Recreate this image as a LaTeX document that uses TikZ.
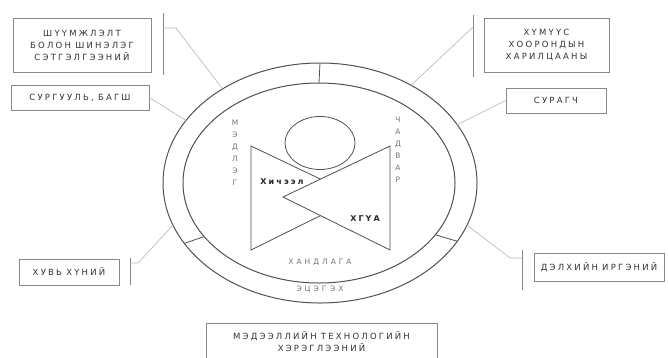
\documentclass[tikz,border=0pt]{standalone}
\usepackage{fontspec}
\setmainfont{DejaVu Sans}
\newfontfamily\tagfont[LetterSpace=26]{DejaVu Sans}
\newfontfamily\ringfont[LetterSpace=40]{DejaVu Sans}
\newcommand{\gap}{\hspace{0.5em}}
\usetikzlibrary{shapes.geometric,calc,positioning}
\definecolor{inkgray}{RGB}{50,50,50}
\definecolor{linegray}{RGB}{80,80,80}
\definecolor{leadgray}{RGB}{180,180,180}
\definecolor{boxgray}{RGB}{135,135,135}
\definecolor{softgray}{RGB}{115,115,115}
\tikzset{
  ring/.style 2 args={ellipse,draw=linegray,line width=1pt,inner sep=0pt,outer sep=0pt,
    minimum width=#1,minimum height=#2},
  tag/.style={rectangle,draw=boxgray,fill=white,text width=#1,align=center,text=inkgray,
    inner sep=0pt,font=\tagfont\fontsize{8.5}{12}\selectfont},
  tag/.default=120pt,
  lead/.style={draw=leadgray,line width=0.6pt},
  brk/.style={draw=boxgray,line width=0.6pt},
  side/.style={text=softgray,align=center,font=\ringfont\fontsize{7.5}{12}\selectfont},
  keyword/.style={text=black!85,font=\tagfont\bfseries\fontsize{8}{9}\selectfont}
}
\begin{document}
\begin{tikzpicture}[x=1pt,y=-1pt]
    \useasboundingbox (0,0) rectangle (668,357);

    % Rings
    \node[ring={314pt}{240pt}] (outer) at (320,183) {};
    \node[ring={272pt}{200pt}] (inner) at (319,183) {};
    \draw[linegray,line width=0.8pt] (outer.90) -- (inner.90);
    \draw[linegray,line width=0.8pt] (outer.204) -- (inner.205);
    \draw[linegray,line width=0.8pt] (outer.337) -- (inner.336);

    % Head and bow
    \node[ring={70pt}{53pt},line width=0.8pt] (head) at (320,143) {};
    \coordinate (tl) at (251,146);
    \coordinate (bl) at (251,250);
    \coordinate (tr) at (390,146);
    \coordinate (br) at (390,250);
    \coordinate (apL) at (283,197);
    \coordinate (apR) at (358,197);
    \draw[linegray,line width=0.8pt] (tr) -- (apL) -- (br) -- cycle;
    \draw[linegray,line width=0.8pt] (intersection of tl--apR and tr--apL) -- (tl) -- (bl)
      -- (intersection of bl--apR and br--apL);

    % Labels inside
    \node[side] (know) at (235,153) {М\\Э\\Д\\Л\\Э\\Г};
    \node[side] (skill) at (398,150) {Ч\\А\\Д\\В\\А\\Р};
    \node[side] (attit) at (320,262) {ХАНДЛАГА};
    \node[side] (parent) at (320,289) {ЭЦЭГ\gap ЭХ};
    \node[keyword] (lesson) at (282,182) {Хичээл};
    \node[keyword] (extra) at (365,219) {ХГҮА};

    % Boxes on the left
    \node[tag=138pt,minimum height=54pt] (crit) at (82,45) {ШҮҮМЖЛЭЛТ\\БОЛОН\gap ШИНЭЛЭГ\\СЭТГЭЛГЭЭНИЙ};
    \node[tag=138pt,minimum height=25pt] (school) at (80,97.5) {СУРГУУЛЬ,\gap БАГШ};
    \node[tag=100pt,minimum height=26pt] (self) at (69,272) {ХУВЬ\gap ХҮНИЙ};

    % Boxes on the right
    \node[tag=125pt,minimum height=54pt] (inter) at (546.5,45) {ХҮМҮҮС\\ХООРОНДЫН\\ХАРИЛЦААНЫ};
    \node[tag=100pt,minimum height=25pt] (pupil) at (556,100.5) {СУРАГЧ};
    \node[tag=130pt,minimum height=28pt] (world) at (599,267) {ДЭЛХИЙН\gap ИРГЭНИЙ};

    % Box at the bottom
    \node[tag=231pt,minimum height=38pt] (ict) at (321.5,342) {МЭДЭЭЛЛИЙН\gap ТЕХНОЛОГИЙН\\ХЭРЭГЛЭЭНИЙ};

    % Leads
    \draw[brk] (163,13) -- (163,75);
    \coordinate (critB) at (163,28);
    \draw[lead] (critB) -- ++(13,0) -- (outer.136);
    \draw[lead] (school.east) -- (outer.155);
    \draw[brk] (130,258) -- (130,285);
    \coordinate (selfB) at (130,263);
    \draw[lead] (selfB) -- ++(8,0) -- (outer.196);
    \draw[brk] (473,15) -- (473,77);
    \coordinate (interB) at (473,27);
    \draw[lead] (interB) -- (outer.47);
    \draw[lead] (pupil.west) -- (outer.23);
    \draw[brk] (522,250) -- (522,290);
    \coordinate (worldB) at (522,258);
    \draw[lead] (worldB) -- ++(-12,0) -- (outer.344);

\end{tikzpicture}
\end{document}
